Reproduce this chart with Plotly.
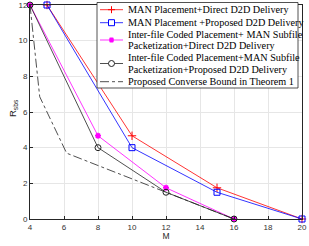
import plotly.graph_objects as go

# Data
m_man = [5, 10, 15, 20]
r_man_direct = [12, 4.667, 1.75, 0]
r_man_proposed = [12, 4, 1.5, 0]
m_coded = [4, 8, 12, 16]
r_coded_direct = [12, 4.667, 1.75, 0]
r_coded_proposed = [12, 4, 1.5, 0]
m_bound = [4, 4.571, 6.154, 16]
r_bound = [12, 6.857, 3.692, 0]

names = [
    "MAN Placement+Direct D2D Delivery",
    "MAN Placement +Proposed D2D Delivery",
    "Inter-file Coded Placement+ MAN Subfile<br>Packetization+Direct D2D Delivery",
    "Inter-file Coded Placement+MAN Subfile<br>Packetization+Proposed D2D Delivery",
    "Proposed Converse Bound in Theorem 1",
]
xticks = [4, 6, 8, 10, 12, 14, 16, 18, 20]
yticks = [0, 2, 4, 6, 8, 10, 12]

W, H = 309, 246
L, R, T, B = 30, 7, 5, 27
PW, PH = W - L - R, H - T - B

def px(x):
    return (x - L) / PW

def py(y):
    return (H - B - y) / PH

colors = ["#ff0000", "#0000ff", "#ff00ff", "#222222", "#222222"]

fig = go.Figure()
fig.add_trace(go.Scatter(x=m_man, y=r_man_direct, name=names[0], mode="lines+markers",
                         line=dict(color=colors[0], width=0.8), cliponaxis=False,
                         marker=dict(symbol="cross-thin-open", size=6, line=dict(color=colors[0], width=1))))
fig.add_trace(go.Scatter(x=m_man, y=r_man_proposed, name=names[1], mode="lines+markers",
                         line=dict(color=colors[1], width=0.8), cliponaxis=False,
                         marker=dict(symbol="square-open", size=6, color=colors[1], line=dict(width=1))))
fig.add_trace(go.Scatter(x=m_coded, y=r_coded_direct, name=names[2], mode="lines+markers",
                         line=dict(color=colors[2], width=0.8), cliponaxis=False,
                         marker=dict(symbol="asterisk-open", size=5, line=dict(color=colors[2], width=1.6))))
fig.add_trace(go.Scatter(x=m_coded, y=r_coded_proposed, name=names[3], mode="lines+markers",
                         line=dict(color=colors[3], width=0.8), cliponaxis=False,
                         marker=dict(symbol="circle-open", size=6, color=colors[3], line=dict(width=1))))
fig.add_trace(go.Scatter(x=m_bound, y=r_bound, name=names[4], mode="lines",
                         line=dict(color=colors[4], width=0.8, dash="dashdot")))

# Manual legend (box, sample lines, markers, text)
shapes = []
annotations = []
box = dict(x0=97, x1=298, y0=2.5, y1=88)
shapes.append(dict(type="rect", xref="paper", yref="paper",
                   x0=px(box["x0"]), x1=px(box["x1"]), y0=py(box["y1"]), y1=py(box["y0"]),
                   fillcolor="white", line=dict(color="#262626", width=0.8), layer="above"))
sample_y = [9.7, 22.7, 40, 63.5, 81.7]
text_lines = [[9.7], [22.7], [34.3, 45.9], [58, 69.6], [81.7]]
lx0, lx1, mx = 100, 123, 111.5
for i, name in enumerate(names):
    yy = sample_y[i]
    shapes.append(dict(type="line", xref="paper", yref="paper",
                       x0=px(lx0), x1=px(lx1), y0=py(yy), y1=py(yy),
                       line=dict(color=colors[i], width=0.8,
                                 dash="dashdot" if i == 4 else "solid"),
                       layer="above"))
    for part, ty in zip(name.split("<br>"), text_lines[i]):
        annotations.append(dict(text=part, xref="paper", yref="paper",
                                x=px(126), y=py(ty), xanchor="left", yanchor="middle",
                                showarrow=False,
                                font=dict(family="Liberation Serif", size=10.2, color="#000000")))

def seg(x0, y0, x1, y1, c, w=1):
    shapes.append(dict(type="line", xref="paper", yref="paper",
                       x0=px(x0), x1=px(x1), y0=py(y0), y1=py(y1),
                       line=dict(color=c, width=w), layer="above"))

# plus
y0 = sample_y[0]
seg(mx - 3.5, y0, mx + 3.5, y0, colors[0])
seg(mx, y0 - 3.5, mx, y0 + 3.5, colors[0])
# square
y1 = sample_y[1]
shapes.append(dict(type="rect", xref="paper", yref="paper",
                   x0=px(mx - 3), x1=px(mx + 3), y0=py(y1 + 3), y1=py(y1 - 3),
                   line=dict(color=colors[1], width=1), fillcolor="white", layer="above"))
# asterisk
y2 = sample_y[2]
seg(mx - 2.5, y2, mx + 2.5, y2, colors[2], 1.5)
seg(mx - 1.8, y2 - 2.2, mx + 1.8, y2 + 2.2, colors[2], 1.5)
seg(mx - 1.8, y2 + 2.2, mx + 1.8, y2 - 2.2, colors[2], 1.5)
seg(mx, y2 - 2.5, mx, y2 + 2.5, colors[2], 1.5)
# circle
y3 = sample_y[3]
shapes.append(dict(type="circle", xref="paper", yref="paper",
                   x0=px(mx - 3), x1=px(mx + 3), y0=py(y3 + 3), y1=py(y3 - 3),
                   line=dict(color=colors[3], width=1), fillcolor="white", layer="above"))

# y-axis title
annotations.append(dict(text="R<sub>sbs</sub>", xref="paper", yref="paper",
                        x=px(13), y=py(108), xanchor="center", yanchor="middle",
                        textangle=-90, showarrow=False,
                        font=dict(family="Liberation Sans", size=9.5, color="#262626")))

fig.update_layout(
    width=W, height=H,
    margin=dict(l=L, r=R, t=T, b=B),
    plot_bgcolor="white", paper_bgcolor="white",
    font=dict(family="Liberation Sans", size=8, color="#333333"),
    showlegend=False,
    shapes=shapes,
    annotations=annotations,
)
fig.update_xaxes(range=[4, 20], tickvals=xticks, ticks="inside", ticklen=3,
                 tickcolor="#262626", ticklabeloverflow="allow",
                 showline=True, linecolor="#262626", linewidth=0.8, mirror=True,
                 showgrid=True, gridcolor="#e6e6e6", gridwidth=0.7, zeroline=False,
                 automargin=False,
                 title=dict(text="M", standoff=0, font=dict(size=8.5, color="#262626")))
fig.update_yaxes(range=[0, 12], tickvals=yticks, ticks="inside", ticklen=3,
                 tickcolor="#262626", ticklabeloverflow="allow",
                 showline=True, linecolor="#262626", linewidth=0.8, mirror=True,
                 showgrid=True, gridcolor="#e6e6e6", gridwidth=0.7, zeroline=False,
                 automargin=False)

fig.write_html("out.html", config={"displayModeBar": False},
               post_script="document.body.style.margin='0';document.body.style.overflow='hidden';")
